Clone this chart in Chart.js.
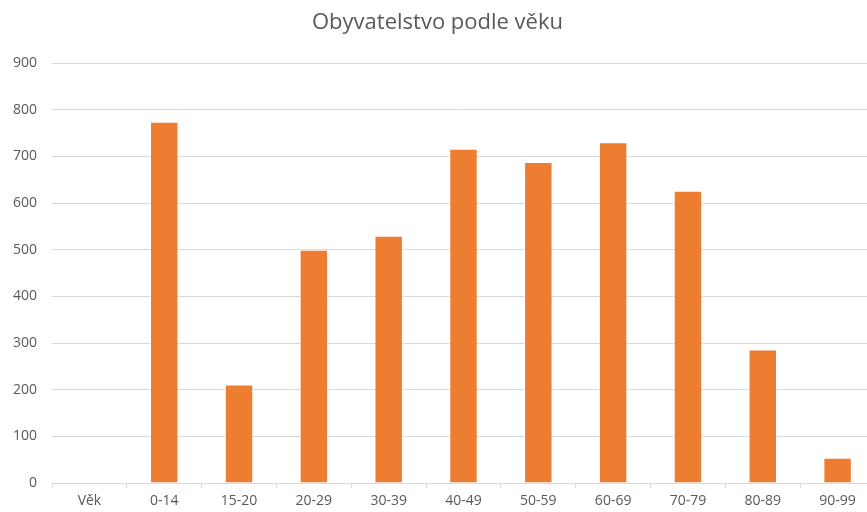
<!DOCTYPE html>
<html lang="cs">
<head>
    <meta charset="UTF-8">
    <title>Obyvatelstvo podle věku</title>
    <script src="https://cdn.jsdelivr.net/npm/chart.js"></script>
    <style>
        html, body { margin: 0; padding: 0; background: #fff; overflow: hidden; }
        #wrap { width: 875px; height: 512px; }
    </style>
</head>
<body>
    <div id="wrap">
        <canvas id="ageChart" width="875" height="512"></canvas>
    </div>
    <script>
        const chartTitle = 'Obyvatelstvo podle věku';
        const ageGroups = ['Věk', '0-14', '15-20', '20-29', '30-39', '40-49', '50-59', '60-69', '70-79', '80-89', '90-99'];
        const population = [null, 774, 211, 500, 530, 716, 688, 730, 626, 286, 54];

        const textColor = '#595959';
        const gridColor = '#d9d9d9';

        Chart.defaults.font.family = '"Open Sans", "Liberation Sans", sans-serif';
        Chart.defaults.color = textColor;

        const ctx = document.getElementById('ageChart').getContext('2d');
        new Chart(ctx, {
            type: 'bar',
            data: {
                labels: ageGroups,
                datasets: [{
                    label: 'Obyvatelstvo',
                    data: population,
                    backgroundColor: '#ED7D31',
                    borderColor: 'rgba(255,255,255,0.5)',
                    borderWidth: 1,
                    barPercentage: 0.38,
                    categoryPercentage: 1
                }]
            },
            options: {
                responsive: false,
                animation: false,
                layout: { padding: { left: 0, right: 0, top: 0, bottom: 0 } },
                plugins: {
                    legend: { display: false },
                    tooltip: { enabled: false },
                    title: {
                        display: true,
                        text: chartTitle,
                        color: textColor,
                        font: { size: 22, weight: 'normal' },
                        padding: { top: 10, bottom: 26.6 }
                    }
                },
                scales: {
                    x: {
                        afterFit: scale => { scale.height = 29; },
                        grid: {
                            display: true,
                            drawOnChartArea: false,
                            drawTicks: true,
                            tickLength: 5,
                            color: gridColor
                        },
                        border: { display: true, color: gridColor, width: 1 },
                        ticks: { color: textColor, font: { size: 14 }, padding: 5, maxRotation: 0 }
                    },
                    y: {
                        min: 0,
                        max: 900,
                        afterFit: scale => { scale.width = 52; },
                        grid: { color: gridColor, drawTicks: false, lineWidth: 1 },
                        border: { display: false },
                        ticks: { stepSize: 100, color: textColor, font: { size: 14 }, padding: 15 }
                    }
                }
            }
        });
    </script>
</body>
</html>
